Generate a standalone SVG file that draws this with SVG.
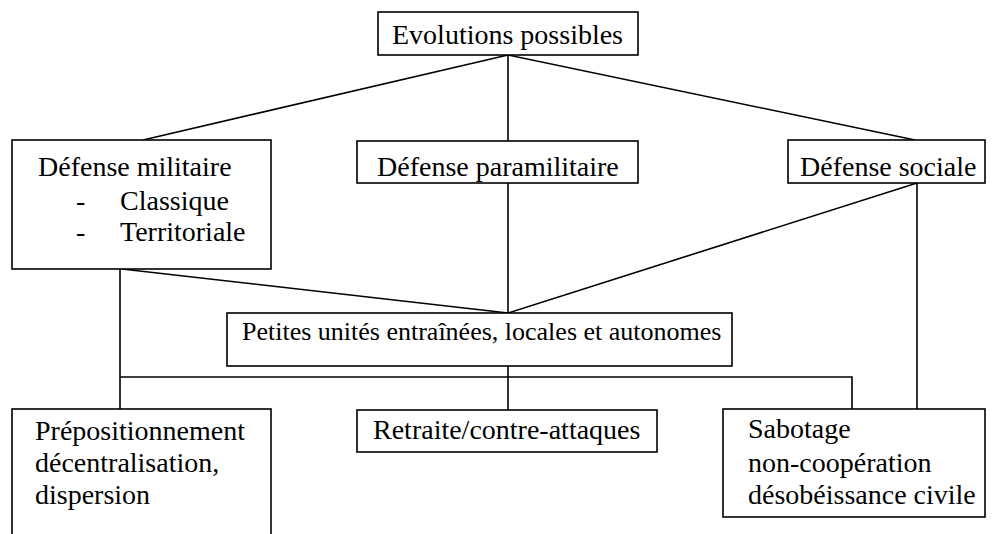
<svg xmlns="http://www.w3.org/2000/svg" width="992" height="534" viewBox="0 0 992 534">
<style>
.box{fill:#fff;stroke:#000;stroke-width:1.6}
.c{stroke:#000;stroke-width:1.6;fill:none}
</style>
<rect width="992" height="534" fill="#fff"/>
<g id="connectors">
<line class="c" x1="508" y1="55" x2="143" y2="140"/>
<line class="c" x1="508" y1="55" x2="508" y2="141"/>
<line class="c" x1="508" y1="55" x2="915" y2="140"/>
<line class="c" x1="122" y1="269" x2="508" y2="313"/>
<line class="c" x1="508" y1="183" x2="508" y2="313"/>
<line class="c" x1="917" y1="183" x2="508" y2="313"/>
<line class="c" x1="120" y1="269" x2="120" y2="409"/>
<line class="c" x1="917" y1="183" x2="917" y2="409"/>
<line class="c" x1="508" y1="366" x2="508" y2="410"/>
<polyline class="c" points="120,377 852,377 852,409"/>
</g>
<g id="nodes" font-family="Liberation Serif" font-size="28" fill="#000">
<g id="n-evolutions">
<rect class="box" x="378" y="12" width="260" height="43"/>
<text x="392" y="44">Evolutions possibles</text>
</g>
<g id="n-militaire">
<rect class="box" x="12" y="140" width="259" height="129"/>
<text x="38" y="176">Défense militaire</text>
<text x="76" y="210">-</text>
<text x="120" y="210">Classique</text>
<text x="76" y="241">-</text>
<text x="120" y="241">Territoriale</text>
</g>
<g id="n-paramilitaire">
<rect class="box" x="357" y="141" width="281" height="42"/>
<text x="377" y="176">Défense paramilitaire</text>
</g>
<g id="n-sociale">
<rect class="box" x="788" y="140" width="197" height="43"/>
<text x="800" y="176">Défense sociale</text>
</g>
<g id="n-petites">
<rect class="box" x="227" y="313" width="505" height="53"/>
<text x="242" y="340" font-size="26">Petites unités entraînées, locales et autonomes</text>
</g>
<g id="n-prepositionnement">
<rect class="box" x="12" y="409" width="259" height="140"/>
<text x="35" y="440">Prépositionnement</text>
<text x="35" y="472">décentralisation,</text>
<text x="35" y="504">dispersion</text>
</g>
<g id="n-retraite">
<rect class="box" x="357" y="410" width="300" height="42"/>
<text x="373" y="439">Retraite/contre-attaques</text>
</g>
<g id="n-sabotage">
<rect class="box" x="723" y="409" width="262" height="108"/>
<text x="748" y="438">Sabotage</text>
<text x="748" y="472">non-coopération</text>
<text x="748" y="504">désobéissance civile</text>
</g>
</g>
</svg>
